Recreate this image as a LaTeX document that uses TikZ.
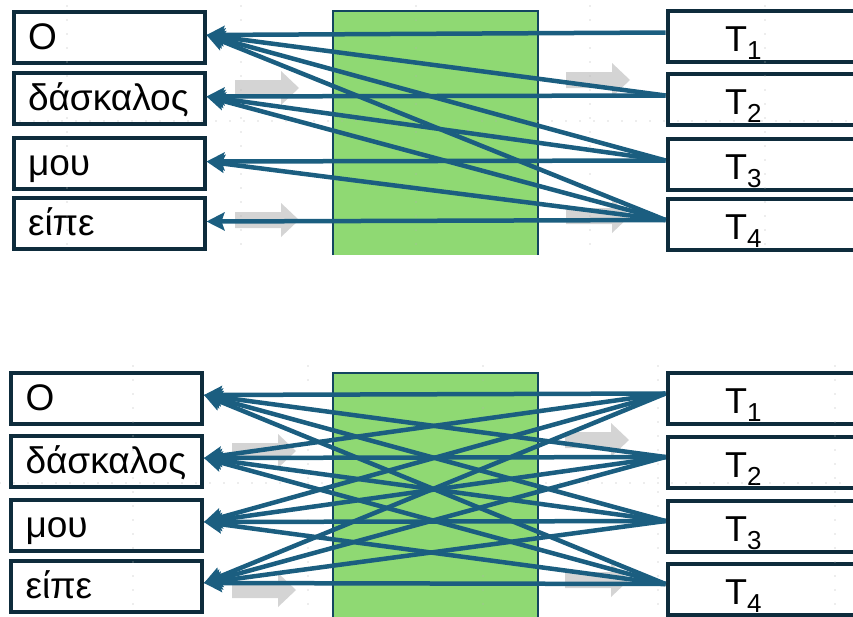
\documentclass[tikz,border=0pt]{standalone}
\usepackage{fontspec}
\setmainfont{Liberation Sans}
\usetikzlibrary{arrows.meta}

\definecolor{linkblue}{HTML}{1B5E80}
\definecolor{boxline}{HTML}{0E2C3C}
\definecolor{attngreen}{HTML}{8FD973}
\definecolor{hintgray}{HTML}{D4D4D4}

% word label, left aligned in a fixed width
\newcommand{\wordlbl}[1]{\makebox[162pt][l]{\fontsize{37}{37}\selectfont #1}}
% token with a lowered index, T_1 ... T_4
\newcommand{\tokn}[1]{\makebox[212.5pt][l]{\hspace*{47.5pt}\fontsize{36}{36}\selectfont T\raisebox{-8pt}{\fontsize{26}{26}\selectfont #1}}}

\begin{document}
\begin{tikzpicture}[x=1pt,y=-1pt,
  word/.style={draw=boxline, fill=white, line width=4pt, inner xsep=14.5pt, inner ysep=0pt,
    minimum height=51pt, text height=37.5pt, text depth=13.5pt},
  token/.style={word, inner xsep=10pt, text height=40.5pt, text depth=10.5pt},
  layer/.style={fill=attngreen},
  layer edge/.style={draw=linkblue!75!black, line width=2.5pt},
  guide/.style={draw=gray!60, line width=1.4pt, line cap=round, dash pattern=on 0pt off 14pt},
  attn/.style={draw=linkblue, line width=4.5pt, -{Stealth[length=18pt,width=18pt,inset=3pt]}},
  hint/.pic={\fill[hintgray] (0,-8) -- (46,-8) -- (46,-17) -- (64,0) -- (46,17) -- (46,8) -- (0,8) -- cycle;}]

\useasboundingbox (0,0) rectangle (853,616);

% ---- masked attention ----
\fill[layer] (333,11) rectangle (538,255);
\draw[layer edge] (333,255) -- (333,11) -- (538,11) -- (538,255);
\pic at (235,88) {hint};
\pic at (235,220) {hint};
\pic at (566,80) {hint};
\pic at (566,216) {hint};

\node[word] (o) at (109,37) {\wordlbl{Ο}};
\node[word] (daskalos) at (109,98.5) {\wordlbl{δάσκαλος}};
\node[word] (mou) at (109,163.5) {\wordlbl{μου}};
\node[word] (eipe) at (109,223.5) {\wordlbl{είπε}};
\node[token] (t1) at (783.75,36.5) {\tokn{1}};
\node[token] (t2) at (783.75,99.5) {\tokn{2}};
\node[token] (t3) at (783.75,164.5) {\tokn{3}};
\node[token] (t4) at (783.75,224) {\tokn{4}};

\foreach \x in {67,241,416,590,765}
  \draw[guide] (\x,6) -- (\x,254);
\draw[guide] (20,121) -- (853,121);

\foreach \t/\ws in {1/{o}, 2/{o,daskalos}, 3/{o,daskalos,mou}, 4/{o,daskalos,mou,eipe}}
  \foreach \w in \ws
    \draw[attn] ([yshift=4pt]t\t.west) -- ([yshift=2pt]\w.east);

% ---- full attention ----
\fill[layer] (333,373) rectangle (538,620);
\draw[layer edge] (333,620) -- (333,373) -- (538,373) -- (538,620);
\pic at (232,451) {hint};
\pic at (232,590) {hint};
\pic at (565,440) {hint};
\pic at (565,580) {hint};

\node[word] (bo) at (106.5,398) {\wordlbl{Ο}};
\node[word] (bdaskalos) at (106.5,461) {\wordlbl{δάσκαλος}};
\node[word] (bmou) at (106.5,525) {\wordlbl{μου}};
\node[word] (beipe) at (106.5,586) {\wordlbl{είπε}};
\node[token] (bt1) at (783.75,398.5) {\tokn{1}};
\node[token] (bt2) at (783.75,462) {\tokn{2}};
\node[token] (bt3) at (783.75,526) {\tokn{3}};
\node[token] (bt4) at (783.75,589) {\tokn{4}};

\foreach \x in {133,308,483,658,835}
  \draw[guide] (\x,366) -- (\x,616);
\draw[guide] (0,483) -- (853,483);

\foreach \t in {1,...,4}
  \foreach \w in {o,daskalos,mou,eipe}
    \draw[attn] ([yshift=5pt]bt\t.west) -- ([yshift=3pt]b\w.east);
\end{tikzpicture}
\end{document}
